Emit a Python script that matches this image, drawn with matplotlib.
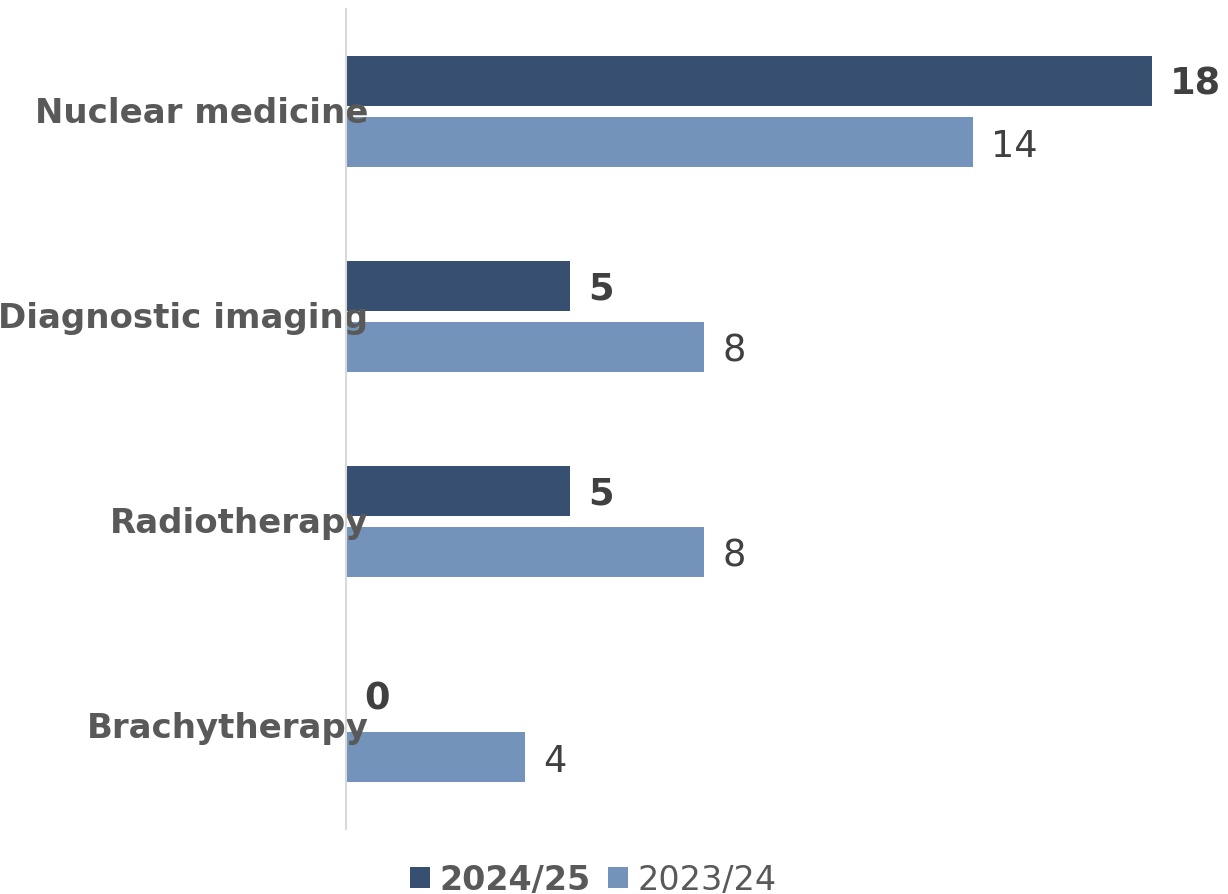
import matplotlib.pyplot as plt
import matplotlib.transforms as mtransforms
import numpy as np

categories = ['Nuclear medicine', 'Diagnostic imaging', 'Radiotherapy', 'Brachytherapy']
values_2425 = [18, 5, 5, 0]
values_2324 = [14, 8, 8, 4]
series_names = ['2024/25', '2023/24']

DARK = '#375071'
LIGHT = '#7493BA'

fig = plt.figure(figsize=(12.28, 8.95), dpi=100)
ax = fig.add_axes([0.2818, 0.0726, 0.7182, 0.9162])

y = np.arange(len(categories))
h = 0.244
off = 0.151
b1 = ax.barh(y - off, values_2425, height=h, color=DARK, label=series_names[0])
b2 = ax.barh(y + off, values_2324, height=h, color=LIGHT, label=series_names[1])

# Value labels
for rect, v in zip(b1, values_2425):
    ax.annotate(str(v), (rect.get_width(), rect.get_y() + rect.get_height() / 2),
                xytext=(13, -2), textcoords='offset points', va='center', ha='left',
                fontsize=26.5, fontweight='bold', color='#404040')
for rect, v in zip(b2, values_2324):
    ax.annotate(str(v), (rect.get_width(), rect.get_y() + rect.get_height() / 2),
                xytext=(13, -2), textcoords='offset points', va='center', ha='left',
                fontsize=26.5, color='#404040')

ax.set_xlim(0, 19.7)
ax.set_ylim(3.5, -0.5)
ax.set_xticks([])
ax.set_yticks(y)
ax.set_yticklabels(categories, fontsize=24.5, fontweight='bold', color='#595959')
ax.tick_params(axis='y', length=0, pad=-16)
# nudge category labels up a little
shift = mtransforms.ScaledTranslation(0, 3 / 100, fig.dpi_scale_trans)
for t in ax.get_yticklabels():
    t.set_transform(t.get_transform() + shift)

for s in ['top', 'right', 'bottom']:
    ax.spines[s].set_visible(False)
ax.spines['left'].set_color('#d9d9d9')
ax.spines['left'].set_linewidth(1.5)

leg = fig.legend(handles=[b1, b2], labels=series_names, loc='center',
                 bbox_to_anchor=(0.483, 0.016), ncol=2, frameon=False,
                 fontsize=24, handlelength=0.6, handleheight=0.6,
                 handletextpad=0.3, columnspacing=0.5)
for t in leg.get_texts():
    t.set_color('#595959')
leg.get_texts()[0].set_fontweight('bold')

fig.savefig('out.png', dpi=100)
